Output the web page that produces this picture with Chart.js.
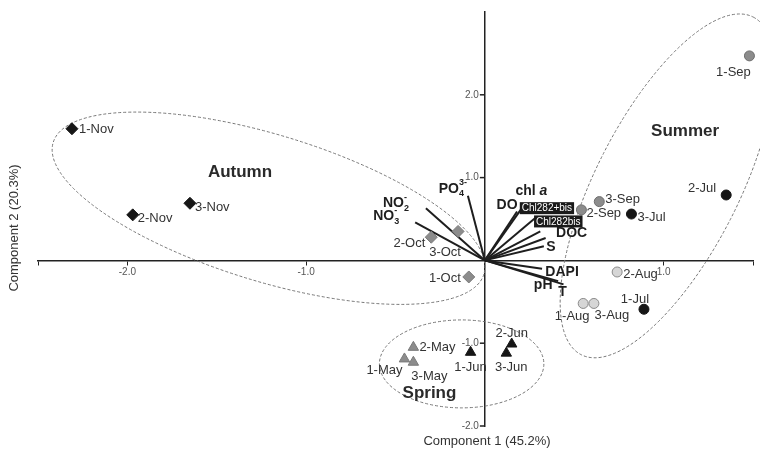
<!DOCTYPE html>
<html>
<head>
<meta charset="utf-8">
<script src="https://cdn.jsdelivr.net/npm/chart.js@4.4.1/dist/chart.umd.min.js"></script>
<style>
  html, body { margin: 0; padding: 0; background: #fff; }
</style>
</head>
<body>
<canvas id="pcaChart" width="760" height="456"></canvas>
<script>
// sample scores (PC1, PC2)
const sampleNames = ['1-Nov', '2-Nov', '3-Nov', '1-Oct', '2-Oct', '3-Oct', '1-Sep', '2-Sep', '3-Sep',
  '1-Aug', '2-Aug', '3-Aug', '1-Jul', '2-Jul', '3-Jul', '1-Jun', '2-Jun', '3-Jun', '1-May', '2-May', '3-May'];
const pc1 = [-2.31, -1.97, -1.65, -0.09, -0.30, -0.15, 1.48, 0.54, 0.64,
  0.55, 0.74, 0.61, 0.89, 1.35, 0.82, -0.08, 0.15, 0.12, -0.45, -0.40, -0.40];
const pc2 = [1.59, 0.55, 0.69, -0.20, 0.28, 0.35, 2.47, 0.61, 0.71,
  -0.52, -0.14, -0.52, -0.59, 0.79, 0.56, -1.11, -1.01, -1.12, -1.19, -1.05, -1.23];

// variable loadings
const varNames = ['PO4', 'NO2', 'NO3', 'chl a', 'DO', 'Chl282+bis', 'Chl282bis', 'DOC', 'S', 'DAPI', 'pH', 'T'];
const loadX = [-0.095, -0.33, -0.39, 0.21, 0.18, 0.28, 0.31, 0.34, 0.33, 0.32, 0.41, 0.44];
const loadY = [0.78, 0.63, 0.46, 0.64, 0.59, 0.51, 0.35, 0.27, 0.17, -0.10, -0.25, -0.29];

const xTicks = [-2.5, -2, -1, 1, 1.5];
const yTicks = [-2, -1, 1, 2];

// groups (ellipse centre in data units, radii in x-units, rotation deg on screen)
const seasons = ['Autumn', 'Summer', 'Spring'];
const seasonEllipses = [
  { cx: -1.21, cy: 0.63, rx: 1.26, ry: 0.41, rot: 17 },
  { cx: 1.02, cy: 0.90, rx: 1.06, ry: 0.40, rot: -63 },
  { cx: -0.13, cy: -1.25, rx: 0.46, ry: 0.246, rot: 0 }
];
const seasonLabelPos = [[-1.37, 1.06], [1.12, 1.56], [-0.31, -1.61]];

const monthStyle = {
  Nov: { shape: 'rectRot', fill: '#161616', border: '#161616' },
  Oct: { shape: 'rectRot', fill: '#8c8c8c', border: '#7a7a7a' },
  Sep: { shape: 'circle', fill: '#8c8c8c', border: '#6e6e6e' },
  Aug: { shape: 'circle', fill: '#d6d6d6', border: '#8a8a8a' },
  Jul: { shape: 'circle', fill: '#161616', border: '#161616' },
  Jun: { shape: 'triangle', fill: '#161616', border: '#161616' },
  May: { shape: 'triangle', fill: '#8c8c8c', border: '#7a7a7a' }
};

// label offsets in px: [dx, dy, align]
const sampleLabelOffset = {
  '1-Nov': [7, 1, 'left'], '2-Nov': [5, 4, 'left'], '3-Nov': [5, 4, 'left'],
  '1-Oct': [-8, 1, 'right'], '2-Oct': [-6, 6, 'right'], '3-Oct': [-13, 21, 'center'],
  '1-Sep': [-16, 17, 'center'], '2-Sep': [5, 4, 'left'], '3-Sep': [6, -2, 'left'],
  '1-Aug': [-11, 13, 'center'], '2-Aug': [6, 2, 'left'], '3-Aug': [18, 12, 'center'],
  '1-Jul': [-9, -10, 'center'], '2-Jul': [-10, -7, 'right'], '3-Jul': [6, 3, 'left'],
  '1-Jun': [0, 15, 'center'], '2-Jun': [0, -11, 'center'], '3-Jun': [5, 14, 'center'],
  '1-May': [-20, 11, 'center'], '2-May': [6, 0, 'left'], '3-May': [16, 14, 'center']
};
const varLabelOffset = {
  'PO4': [-1, -7], 'NO2': [-17, -5], 'NO3': [-16, -6], 'chl a': [9, -16], 'DO': [-10, -6],
  'Chl282+bis': [12, -10], 'Chl282bis': [18, -10], 'DOC': [26, -5], 'S': [7, 1],
  'DAPI': [20, 3], 'pH': [-15, 4], 'T': [-1, 8]
};

const datasets = [];
varNames.forEach((name, i) => {
  datasets.push({
    type: 'line',
    label: name,
    data: [{ x: 0, y: 0 }, { x: loadX[i], y: loadY[i] }],
    borderColor: '#1e1e1e',
    borderWidth: 2,
    pointRadius: 0,
    order: 2
  });
});
Object.keys(monthStyle).forEach(m => {
  const st = monthStyle[m];
  const pts = [];
  sampleNames.forEach((n, i) => {
    if (n.endsWith(m)) pts.push({ x: pc1[i], y: pc2[i], name: n });
  });
  datasets.push({
    type: 'scatter',
    label: m,
    data: pts,
    pointStyle: st.shape,
    pointRadius: st.shape === 'circle' ? 5 : 6,
    backgroundColor: st.fill,
    borderColor: st.border,
    borderWidth: 1,
    clip: false,
    order: 1
  });
});

const FONT = '"Liberation Sans", Arial, sans-serif';

function drawVarLabel(ctx, name, x, y) {
  ctx.textBaseline = 'middle';
  ctx.fillStyle = '#1e1e1e';
  if (name === 'PO4' || name === 'NO2' || name === 'NO3') {
    const base = name.slice(0, 2);
    const sub = name.slice(2);
    const sup = name === 'PO4' ? '3-' : '-';
    ctx.font = 'bold 14px ' + FONT;
    const w1 = ctx.measureText(base).width;
    ctx.font = 'bold 9px ' + FONT;
    const w2 = Math.max(ctx.measureText(sub).width, ctx.measureText(sup).width);
    let x0 = x - w1 - w2;
    ctx.textAlign = 'left';
    ctx.font = 'bold 14px ' + FONT;
    ctx.fillText(base, x0, y);
    ctx.font = 'bold 9px ' + FONT;
    ctx.fillText(sub, x0 + w1, y + 5);
    ctx.fillText(sup, x0 + w1, y - 6);
  } else if (name === 'chl a') {
    ctx.font = 'bold 14px ' + FONT;
    const w1 = ctx.measureText('chl ').width;
    ctx.font = 'bold italic 14px ' + FONT;
    const w2 = ctx.measureText('a').width;
    ctx.textAlign = 'left';
    ctx.font = 'bold 14px ' + FONT;
    ctx.fillText('chl ', x - (w1 + w2) / 2, y);
    ctx.font = 'bold italic 14px ' + FONT;
    ctx.fillText('a', x - (w1 + w2) / 2 + w1, y);
  } else if (name.startsWith('Chl282')) {
    ctx.font = '10px ' + FONT;
    const w = ctx.measureText(name).width;
    ctx.fillStyle = '#1a1a1a';
    ctx.fillRect(x - w / 2 - 2, y - 6, w + 4, 12);
    ctx.fillStyle = '#ffffff';
    ctx.textAlign = 'center';
    ctx.fillText(name, x, y + 0.5);
  } else {
    ctx.font = 'bold 14px ' + FONT;
    ctx.textAlign = 'center';
    ctx.fillText(name, x, y);
  }
}

const biplotPlugin = {
  id: 'biplot',
  beforeDatasetsDraw(chart) {
    const { ctx, scales: { x, y } } = chart;
    const unit = x.getPixelForValue(1) - x.getPixelForValue(0);
    ctx.save();
    ctx.strokeStyle = '#777';
    ctx.lineWidth = 1;
    ctx.setLineDash([3, 2]);
    seasonEllipses.forEach(e => {
      ctx.beginPath();
      ctx.ellipse(x.getPixelForValue(e.cx), y.getPixelForValue(e.cy), e.rx * unit, e.ry * unit,
        e.rot * Math.PI / 180, 0, Math.PI * 2);
      ctx.stroke();
    });
    ctx.setLineDash([]);
    // y tick marks + labels (left of the centred axis)
    const x0 = x.getPixelForValue(0);
    ctx.strokeStyle = '#222';
    ctx.lineWidth = 1.5;
    ctx.font = '10px ' + FONT;
    ctx.fillStyle = '#555';
    ctx.textAlign = 'right';
    ctx.textBaseline = 'middle';
    yTicks.forEach(v => {
      const py = y.getPixelForValue(v);
      ctx.beginPath();
      ctx.moveTo(x0 - 5, py);
      ctx.lineTo(x0, py);
      ctx.stroke();
      ctx.fillText(v.toFixed(1), x0 - 6, py);
    });
    ctx.restore();
  },
  afterDatasetsDraw(chart) {
    const { ctx, scales: { x, y } } = chart;
    ctx.save();
    // sample labels
    ctx.font = '13px ' + FONT;
    ctx.fillStyle = '#333';
    ctx.textBaseline = 'middle';
    sampleNames.forEach((n, i) => {
      const o = sampleLabelOffset[n];
      ctx.textAlign = o[2];
      ctx.fillText(n, x.getPixelForValue(pc1[i]) + o[0], y.getPixelForValue(pc2[i]) + o[1]);
    });
    // variable labels
    varNames.forEach((n, i) => {
      const o = varLabelOffset[n];
      drawVarLabel(ctx, n, x.getPixelForValue(loadX[i]) + o[0], y.getPixelForValue(loadY[i]) + o[1]);
    });
    // season labels
    ctx.font = 'bold 17px ' + FONT;
    ctx.fillStyle = '#2a2a2a';
    ctx.textAlign = 'center';
    ctx.textBaseline = 'middle';
    seasons.forEach((s, i) => {
      ctx.fillText(s, x.getPixelForValue(seasonLabelPos[i][0]), y.getPixelForValue(seasonLabelPos[i][1]));
    });
    // axis titles
    ctx.font = '13px ' + FONT;
    ctx.fillStyle = '#333';
    ctx.fillText('Component 1 (45.2%)', 487, 441);
    ctx.translate(14, 228);
    ctx.rotate(-Math.PI / 2);
    ctx.fillText('Component 2 (20.3%)', 0, 0);
    ctx.restore();
  }
};

const ctx = document.getElementById('pcaChart').getContext('2d');
const pcaChart = new Chart(ctx, {
  type: 'scatter',
  data: { datasets: datasets },
  plugins: [biplotPlugin],
  options: {
    responsive: false,
    animation: false,
    layout: { padding: { left: 38, right: 5, top: 12, bottom: 30 } },
    plugins: { legend: { display: false }, tooltip: { enabled: false } },
    scales: {
      x: {
        type: 'linear',
        min: -2.5,
        max: 1.5,
        position: { y: 0 },
        afterBuildTicks: (s) => { s.ticks = xTicks.map(v => ({ value: v })); },
        ticks: {
          callback: (v) => Number.isInteger(v) ? v.toFixed(1) : '',
          font: { size: 10, family: FONT },
          color: '#555',
          padding: 2
        },
        grid: { drawOnChartArea: false, drawTicks: true, tickLength: 4, color: '#222' },
        border: { color: '#222', width: 1.5 }
      },
      y: {
        type: 'linear',
        min: -2,
        max: 3,
        position: { x: 0 },
        afterBuildTicks: (s) => { s.ticks = yTicks.map(v => ({ value: v })); },
        ticks: { display: false },
        grid: { drawOnChartArea: false, drawTicks: false },
        border: { color: '#222', width: 1.5 }
      }
    }
  }
});
</script>
</body>
</html>
